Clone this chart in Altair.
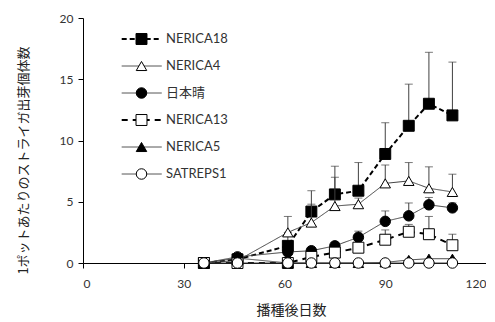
import altair as alt
import pandas as pd

days = [36, 46, 61, 68, 75, 82, 90, 97, 103, 110]
series = ["NERICA18", "NERICA4", "日本晴", "NERICA13", "NERICA5", "SATREPS1"]

nerica18 = [0, 0.3, 1.4, 4.2, 5.6, 5.9, 8.9, 11.2, 13.0, 12.05]
nerica18_sd = [0, 0, 1.1, 1.7, 2.3, 2.3, 2.55, 3.4, 4.2, 4.35]
nerica4 = [0, 0.2, 2.5, 3.3, 4.65, 4.8, 6.5, 6.7, 6.1, 5.8]
nerica4_sd = [0, 0, 1.3, 1.5, 2.35, 0.5, 1.5, 1.5, 1.75, 1.45]
nipponbare = [0, 0.5, 0.9, 1.0, 1.4, 2.1, 3.4, 3.85, 4.75, 4.5]
nipponbare_sd = [0, 0, 0, 0, 0.3, 0.5, 0.85, 1.05, 0.6, 0.4]
nerica13 = [0, 0, 0, 0.5, 0.85, 1.25, 1.9, 2.55, 2.35, 1.45]
nerica13_sd = [0, 0, 0, 0, 0.3, 0.3, 0.8, 0.6, 1.45, 0.9]
nerica5 = [0, 0.4, 0, 0, 0, 0, 0.05, 0.25, 0.35, 0.35]
nerica5_sd = [0, 0, 0, 0, 0, 0, 0, 0, 0, 0]
satreps1 = [0, 0, 0, 0, 0, 0, 0, 0, 0, 0]
satreps1_sd = [0, 0, 0, 0, 0, 0, 0, 0, 0, 0]

x_ticks = [0, 30, 60, 90, 120]
y_ticks = [0, 5, 10, 15, 20]

values = [nerica18, nerica4, nipponbare, nerica13, nerica5, satreps1]
sds = [nerica18_sd, nerica4_sd, nipponbare_sd, nerica13_sd, nerica5_sd, satreps1_sd]

# styles
shapes = ["square", "triangle-up", "circle", "square", "triangle-up", "circle"]
fills = ["black", "white", "black", "white", "black", "white"]
dashes = [[5, 3], [1, 0], [1, 0], [6, 5], [1, 0], [1, 0]]
widths = [2, 1, 1, 2, 1, 1]
line_colors = ["black", "#404040", "#404040", "black", "#404040", "#404040"]
sizes = [120, 110, 110, 120, 110, 110]

FONT = "Lato, Noto Sans CJK JP"
JFONT = "Noto Sans CJK JP"

x_enc = alt.X("day:Q", scale=alt.Scale(domain=[0, 120], nice=False),
              axis=alt.Axis(values=x_ticks, title="播種後日数", grid=False,
                            domainColor="black", tickColor="black", tickSize=5,
                            labelFont=FONT, labelFontSize=12, labelColor="#333333",
                            labelPadding=10, titleFont=JFONT, titleFontSize=14,
                            titleFontWeight="normal", titleColor="#222222",
                            titleX=208, titleY=47, titleAlign="center",
                            titleBaseline="middle"))
y_axis = alt.Axis(values=y_ticks, title="1ポットあたりのストライガ出芽個体数", grid=False,
                  domainColor="black", tickColor="black", tickSize=5,
                  labelFont=FONT, labelFontSize=12, labelColor="#333333",
                  labelPadding=5, titleFont=JFONT, titleFontSize=13,
                  titleFontWeight="normal", titleColor="#222222",
                  titleX=-60, titleY=142, titleAngle=-90,
                  titleAlign="center", titleBaseline="middle")
y_scale = alt.Scale(domain=[0, 20], nice=False)

layers = []
for i, s in enumerate(series):
    df = pd.DataFrame({"day": days, "value": values[i], "sd": sds[i]})
    df["top"] = df["value"] + df["sd"]
    base = alt.Chart(df)
    line = base.mark_line(color=line_colors[i], strokeWidth=widths[i],
                          strokeDash=dashes[i]).encode(
        x=x_enc, y=alt.Y("value:Q", scale=y_scale, axis=y_axis))
    layers.append(line)
    if any(v > 0 for v in sds[i]):
        eb = base.transform_filter(alt.datum.sd > 0)
        rule = eb.mark_rule(color="#404040", strokeWidth=1).encode(
            x=x_enc, y=alt.Y("value:Q", scale=y_scale, axis=y_axis), y2="top:Q")
        cap = eb.mark_tick(color="#404040", orient="horizontal", size=8,
                           thickness=1).encode(
            x=x_enc, y=alt.Y("top:Q", scale=y_scale, axis=y_axis))
        layers += [rule, cap]
    pts = base.mark_point(shape=shapes[i], filled=True, fill=fills[i],
                          stroke="black", strokeWidth=1, size=sizes[i],
                          opacity=1).encode(
        x=x_enc, y=alt.Y("value:Q", scale=y_scale, axis=y_axis))
    layers.append(pts)

data_layer = alt.layer(*layers)

# legend
leg_layers = []
leg_y_scale = alt.Scale(domain=[0, 5], range=[21, 156], nice=False, zero=False)
for i, s in enumerate(series):
    ldf = pd.DataFrame({"series": [s], "i": [i]})
    lb = alt.Chart(ldf)
    ly = alt.Y("i:Q", scale=leg_y_scale, axis=None)
    leg_layers.append(lb.mark_rule(color=line_colors[i], strokeWidth=widths[i],
                                   strokeDash=dashes[i]).encode(
        x=alt.value(38.7), x2=alt.value(78.7), y=ly))
    leg_layers.append(lb.mark_point(shape=shapes[i], filled=True, fill=fills[i],
                                    stroke="black", strokeWidth=1, size=sizes[i],
                                    opacity=1).encode(x=alt.value(58.5), y=ly))
    leg_layers.append(lb.mark_text(align="left", baseline="middle", font=FONT,
                                   fontSize=13, color="#333333").encode(
        x=alt.value(83), y=ly, text="series:N"))
legend_layer = alt.layer(*leg_layers)

chart = alt.layer(data_layer, legend_layer).resolve_scale(
    y="independent"
).properties(
    width=403, height=245,
    autosize=alt.AutoSizeParams(type="none"),
    padding={"left": 75, "top": 10, "right": 0, "bottom": 56},
).configure_view(stroke=None).configure_axis(domainWidth=1, tickWidth=1)

chart.save("out.html", embed_options={"renderer": "svg", "actions": False})
